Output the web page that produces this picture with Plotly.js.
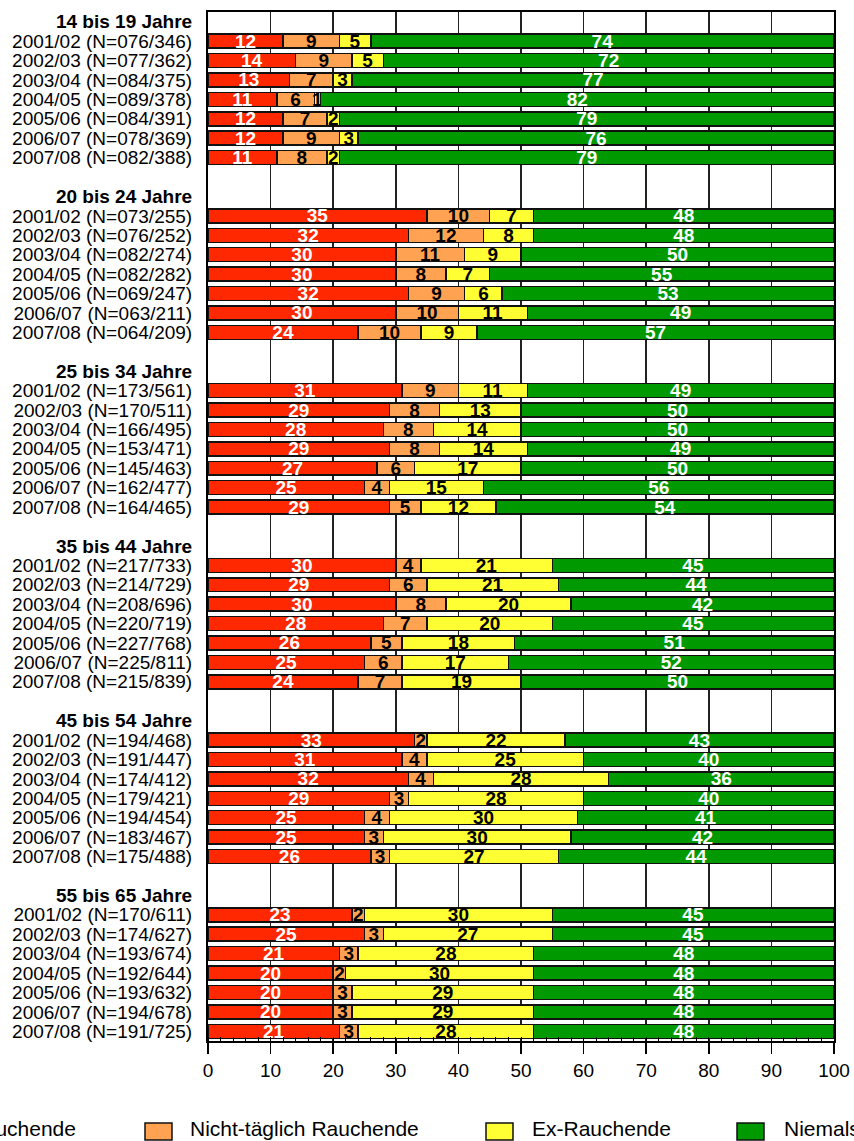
<!DOCTYPE html>
<html>
<head>
<meta charset="utf-8">
<script src="https://cdn.plot.ly/plotly-3.0.1.min.js"></script>
<style>html,body{margin:0;padding:0;background:#fff;}#chart{width:854px;height:1141px;}</style>
</head>
<body>
<div id="chart"></div>
<script>
// ---- data ----
var groups = ['14 bis 19 Jahre', '20 bis 24 Jahre', '25 bis 34 Jahre', '35 bis 44 Jahre', '45 bis 54 Jahre', '55 bis 65 Jahre'];
var years = ['2001/02', '2002/03', '2003/04', '2004/05', '2005/06', '2006/07', '2007/08'];
var sampleN = [
  ['076/346', '077/362', '084/375', '089/378', '084/391', '078/369', '082/388'],
  ['073/255', '076/252', '082/274', '082/282', '069/247', '063/211', '064/209'],
  ['173/561', '170/511', '166/495', '153/471', '145/463', '162/477', '164/465'],
  ['217/733', '214/729', '208/696', '220/719', '227/768', '225/811', '215/839'],
  ['194/468', '191/447', '174/412', '179/421', '194/454', '183/467', '175/488'],
  ['170/611', '174/627', '193/674', '192/644', '193/632', '194/678', '191/725']
];
var taeglich = [
  [12, 14, 13, 11, 12, 12, 11],
  [35, 32, 30, 30, 32, 30, 24],
  [31, 29, 28, 29, 27, 25, 29],
  [30, 29, 30, 28, 26, 25, 24],
  [33, 31, 32, 29, 25, 25, 26],
  [23, 25, 21, 20, 20, 20, 21]
];
var nichtTaeglich = [
  [9, 9, 7, 6, 7, 9, 8],
  [10, 12, 11, 8, 9, 10, 10],
  [9, 8, 8, 8, 6, 4, 5],
  [4, 6, 8, 7, 5, 6, 7],
  [2, 4, 4, 3, 4, 3, 3],
  [2, 3, 3, 2, 3, 3, 3]
];
var exRauchend = [
  [5, 5, 3, 1, 2, 3, 2],
  [7, 8, 9, 7, 6, 11, 9],
  [11, 13, 14, 14, 17, 15, 12],
  [21, 21, 20, 20, 18, 17, 19],
  [22, 25, 28, 28, 30, 30, 27],
  [30, 27, 28, 30, 29, 29, 28]
];
var niemals = [
  [74, 72, 77, 82, 79, 76, 79],
  [48, 48, 50, 55, 53, 49, 57],
  [49, 50, 50, 49, 50, 56, 54],
  [45, 44, 42, 45, 51, 52, 50],
  [43, 40, 36, 40, 41, 42, 44],
  [45, 45, 48, 48, 48, 48, 48]
];
var seriesNames = ['Täglich Rauchende', 'Nicht-täglich Rauchende', 'Ex-Rauchende', 'Niemals Rauchende'];
var seriesData = [taeglich, nichtTaeglich, exRauchend, niemals];
var xTicks = [0, 10, 20, 30, 40, 50, 60, 70, 80, 90, 100];

// ---- style ----
var colors = ['rgb(255,40,0)', 'rgb(255,163,82)', 'rgb(255,255,51)', 'rgb(0,153,0)'];
var textColors = ['#ffffff', '#000000', '#000000', '#ffffff'];
var FONT = 'Liberation Sans, Arial, Helvetica, sans-serif';
var L = 208, R = 20, T = 12, B = 100, WID = 854, HEI = 1141;
var slotsPerGroup = years.length + 2;

// ---- build rows ----
var tickvals = [], ticktext = [];
var rowY = [];
groups.forEach(function (g, gi) {
  var base = gi * slotsPerGroup;
  tickvals.push(base);
  ticktext.push('<b>' + g + '</b>');
  years.forEach(function (yr, ri) {
    var pos = base + 1 + ri;
    tickvals.push(pos);
    ticktext.push(yr + ' (N=' + sampleN[gi][ri] + ')');
    rowY.push(pos);
  });
});
var lastSlot = rowY[rowY.length - 1];

var traces = seriesData.map(function (arr, si) {
  var xs = [];
  arr.forEach(function (row) { row.forEach(function (v) { xs.push(v); }); });
  return {
    type: 'bar',
    orientation: 'h',
    name: seriesNames[si],
    x: xs,
    y: rowY,
    text: xs.map(String),
    textposition: 'inside',
    insidetextanchor: 'middle',
    textangle: 0,
    constraintext: 'none',
    insidetextfont: { family: FONT, size: 19, color: textColors[si], weight: 'bold' },
    marker: { color: colors[si], line: { color: '#111', width: 1.5 } },
    width: 0.72,
    hoverinfo: 'name+x',
    showlegend: false
  };
});

// ---- manual legend (cropped at the page edges like the reference) ----
var plotW = WID - L - R, plotH = HEI - T - B;
function px2x(px) { return (px - L) / plotW; }
function py2y(py) { return (HEI - B - py) / plotH; }
var legendBoxes = [-138, 145, 486, 737];
var legendTexts = [{ x: 78, anchor: 'right' }, { x: 188, anchor: 'left' }, { x: 530, anchor: 'left' }, { x: 782, anchor: 'left' }];
var shapes = [], annotations = [];
seriesNames.forEach(function (n, i) {
  shapes.push({
    type: 'rect', xref: 'paper', yref: 'paper',
    x0: px2x(legendBoxes[i]), x1: px2x(legendBoxes[i] + 27),
    y0: py2y(1140), y1: py2y(1123),
    fillcolor: colors[i], line: { color: '#111', width: 1.5 }
  });
  annotations.push({
    xref: 'paper', yref: 'paper', showarrow: false,
    x: px2x(legendTexts[i].x), xanchor: legendTexts[i].anchor,
    y: py2y(1128), yanchor: 'middle',
    text: n, font: { family: FONT, size: 21, color: '#000' }
  });
});

var layout = {
  width: WID, height: HEI,
  margin: { l: L, r: R, t: T, b: B, pad: 0, autoexpand: false },
  paper_bgcolor: '#fff', plot_bgcolor: '#fff',
  barmode: 'stack',
  showlegend: false,
  font: { family: FONT, size: 19, color: '#000' },
  xaxis: {
    range: [0, 100], tickvals: xTicks, ticktext: xTicks.map(String),
    showgrid: true, gridcolor: '#222', gridwidth: 1.5,
    zeroline: false, showline: true, mirror: true, linecolor: '#000', linewidth: 2,
    ticks: 'outside', ticklen: 11, tickwidth: 1.5, tickcolor: '#000',
    minor: { dtick: 2, tick0: 0, ticks: 'inside', ticklen: 4, tickwidth: 1, tickcolor: '#000', showgrid: false },
    tickfont: { family: FONT, size: 19, color: '#000' },
    automargin: false, fixedrange: true
  },
  yaxis: {
    range: [lastSlot + 0.5, -0.5],
    tickmode: 'array', tickvals: tickvals, ticktext: ticktext,
    showgrid: false, zeroline: false, showline: true, mirror: true, linecolor: '#000', linewidth: 2,
    ticks: '', ticklabelstandoff: 10,
    tickfont: { family: FONT, size: 19, color: '#000' },
    automargin: false, fixedrange: true
  },
  shapes: shapes,
  annotations: annotations
};

Plotly.newPlot('chart', traces, layout, { displayModeBar: false, staticPlot: true });
</script>
</body>
</html>
